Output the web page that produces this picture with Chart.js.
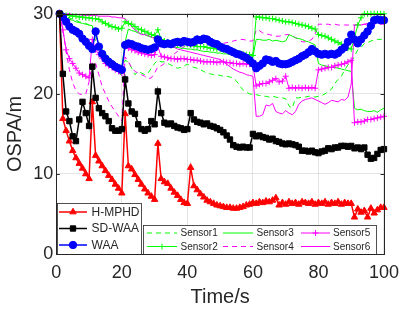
<!DOCTYPE html>
<html><head><meta charset="utf-8">
<script src="https://cdn.jsdelivr.net/npm/chart.js@4.4.1/dist/chart.umd.min.js"></script>
<style>html,body{margin:0;padding:0;background:#fff;overflow:hidden}#wrap{width:407px;height:309px}</style>
</head><body><div id="wrap"><canvas id="c" width="407" height="309"></canvas></div>
<script>
const timeSteps = [1,2,3,4,5,6,7,8,9,10,11,12,13,14,15,16,17,18,19,20,21,22,23,24,25,26,27,28,29,30,31,32,33,34,35,36,37,38,39,40,41,42,43,44,45,46,47,48,49,50,51,52,53,54,55,56,57,58,59,60,61,62,63,64,65,66,67,68,69,70,71,72,73,74,75,76,77,78,79,80,81,82,83,84,85,86,87,88,89,90,91,92,93,94,95,96,97,98,99,100];
const xTicks = [0,20,40,60,80,100];
const yTicks = [0,10,20,30];

const hmphd = [30,16.9,15.4,14.1,12.9,12,11.3,10.7,10,9.4,
 19,12.3,11.6,11,10.4,9.8,9.3,8.7,8.2,7.6,
 17.5,11,10.6,9.9,9.3,8.7,8.1,7.6,7.2,6.8,
 13.8,9.4,9,8.8,8.2,7.7,7.3,6.8,6.4,6.3,
 10.8,8.5,8,7.5,7.1,6.7,6.5,6.3,6.1,6,
 5.9,5.8,5.8,5.7,5.7,5.8,5.9,6.1,6.2,6.4,
 6.3,6.5,6.4,6.6,6.5,6.7,7,6.1,6.4,6.2,
 6.5,6.3,6.4,6.2,6.5,6.4,6.3,6.5,6.2,6.4,
 6.3,6.5,6.2,6.4,6.3,6.5,6.2,6.4,6.3,6.3,
 4.6,5.6,5.2,5.4,4.6,5.7,5.1,5.5,5.8,5.8];
const sdwaa = [30,22.5,17.8,16.6,14.7,14.1,16.8,19,17.6,16,
 23.4,19.5,18.2,17.6,17.2,16.6,15.7,15.4,15.4,15.6,
 21.8,18.8,17.8,17.5,16.2,15.6,15.4,15.6,16.6,16.2,
 20.3,17.6,16.4,16.2,16.3,16,15.8,15.7,15.5,15.6,
 17.6,16.8,16.5,16.4,16.2,16.3,16,15.9,15.7,15.5,
 15.2,14.8,14.3,13.6,13.4,13.3,13.4,13.3,13.3,15,
 14.7,14.8,14.6,14.5,14.3,14.4,14.1,14,13.8,13.7,
 13.8,13.7,13.6,13.4,12.9,12.9,12.8,12.9,12.7,12.6,
 12.8,12.9,13.2,13.1,13.3,13.3,13.5,13.5,13.4,13.5,
 13.2,13.3,13.1,13.3,12.4,11.9,12,12.5,13,13.1];
const waa = [30,29.6,29,28.4,28,27.8,27.5,26.9,26.5,26,
 25.6,27.8,25.9,25,24.4,24,23.7,23.4,23.2,23,
 26.1,26.3,26.2,26,25.9,25.7,25.6,25.5,25.6,25.8,
 26.8,26.3,26.2,26.3,26.2,26.4,26.5,26.4,26.6,26.5,
 26.4,26.5,26.8,26.7,26.9,26.8,26.5,26.3,26.2,25.9,
 25.7,25.6,25.4,25.2,25,24.9,24.7,24.5,24.2,23.8,
 23.2,23.5,23.8,24.3,24.2,24,24.1,23.8,23.7,23.7,
 23.8,24,24.2,24.4,24.7,24.9,25.2,25.6,25.3,25,
 24.9,25,24.9,25,24.9,25.1,25.5,25.8,26.5,27.4,
 26.8,26.3,26.8,27.3,27.8,28.5,29.2,29.3,29.2,29.2];
const sensor1 = [30,29.8,29.6,29.5,29.3,29.2,29,28.9,28.8,28.6,
 28.4,26.5,25.3,24.8,24.3,23.8,23.2,22.9,22.6,22.3,
 24.2,24,23.2,22.4,22.8,22.6,22.4,22.6,23.2,23.8,
 24.2,24,24,23.8,23.6,23.4,23.2,23.3,23.5,23.7,
 23.5,23.3,23.2,23,22.8,22.6,22.5,22.4,22.4,22.3,
 22.2,22.2,22.1,22,21.6,21,20.5,20.2,20,19.9,
 19.9,19.8,19.7,19.7,19.6,19.7,19.6,19.5,19.5,19.4,
 18.5,18.2,19.5,19.5,19.6,19.6,19.7,19.7,19.6,19.7,
 19.8,20,20.3,20.6,21.3,21.8,22.2,23,23.6,24,
 24.7,25.5,25.8,26.3,26.4,26.6,26.7,26.8,26.8,26.9];
const sensor2 = [30,29.9,29.8,29.8,29.7,29.7,29.6,29.6,29.5,29.5,
 29.4,29.4,29.3,29,28.8,28.6,28.4,28.3,28.1,28.2,
 29,28.8,28.7,28.4,28.1,28,27.8,27.6,27.4,27.3,
 28,26.8,26.6,26.5,26.3,26.2,26.1,26.2,26.3,26.2,
 26.1,26,25.9,25.9,25.9,25.8,25.7,25.7,25.6,25.6,
 25.5,25.5,25.4,25.3,25.2,25.1,25,24.9,24.9,24.8,
 29.6,29.6,29.5,29.5,29.4,29.4,29.3,29.2,29.1,29,
 29,28.9,28.8,28.7,28.6,28.5,28.4,28.2,28.1,27.4,
 27.3,27.2,27,26.8,26.6,26.4,26.2,26,25.7,25.6,
 27,28.6,29.5,30,30,30,30,30,30,30];
const sensor3 = [30,29.7,29.5,29.3,29.2,29,28.9,28.8,28.7,28.6,
 28.5,27.2,26.2,25.5,25,24.6,24.2,23.9,23.6,23.3,
 26.5,28.1,27.9,27.8,27.6,27.5,27.4,27.2,27.1,27,
 27.2,26.1,26,25.9,25.9,25.8,25.8,25.7,25.7,25.6,
 25.6,25.5,25.5,25.4,25.3,25.3,25.2,25.2,25.1,25.1,
 25,25,24.9,24.9,24.8,24.8,24.7,24.7,24.6,24.6,
 26.8,26.8,26.7,26.7,26.8,26.6,26.7,26.6,26.5,26.6,
 27.4,27.2,27,26.9,26.8,26.6,26.5,26.3,26.1,23.8,
 23.6,23.5,23.4,23.3,23.3,23.2,23.1,23,22.9,22.8,
 18.2,18,18.1,17.9,17.8,17.8,17.9,17.7,18,18.2];
const sensor4 = [30,28.1,25.3,23,21.4,20.4,20,19.9,20,21.5,
 24,23.8,22.4,20.9,20,19.1,18.4,17.8,17.2,16.6,
 24.6,24,23.3,22.8,22.6,22.4,22.2,21.9,22,22.6,
 23.4,23.5,23.8,24.2,24.6,25,25.3,25.6,25.9,26.1,
 26.3,26.4,26.6,26.8,26.8,26.7,26.6,26.5,26.4,26.4,
 26.3,26.4,26.5,26.6,26.7,26.8,26.8,26.7,26.6,26.6,
 28,27.9,27.6,27.5,27.4,27.3,27.2,27.2,27.3,27.4,
 27.4,27.3,27,26.8,26.5,26.5,26.6,26.8,27.5,28.7,
 28.7,28.7,28.7,28.6,28.7,28.6,28.6,28.6,28.6,28.6,
 28.6,28.6,28.6,28.7,28.6,28.7,28.7,28.7,28.7,28.7];
const sensor5 = [30,28,25.5,24.4,23.8,23.2,22.6,22.4,22.2,22,
 26.8,25.5,24.9,24.4,23.8,23.5,23.3,23,22.8,22.6,
 25.9,25.7,25.5,25.4,25.2,25.1,25,24.9,24.8,24.9,
 25.9,24.7,24.6,24.5,24.4,24.4,24.3,24.4,24.4,24.3,
 24.3,24.2,24.2,24.1,24,24,24,24,23.9,24,
 24,23.9,23.9,23.8,23.8,23.7,23.8,23.7,23.7,23.6,
 21,21.2,21.3,21.3,21.5,21.7,21.9,21.5,21.6,22.2,
 20.7,20.8,20.7,20.8,20.7,20.8,20.7,20.8,20.7,23,
 23.1,23.2,23.3,23.3,23.5,23.6,23.7,23.8,24,24.2,
 16.4,16.5,16.5,16.6,16.8,16.8,16.9,17,17.1,17.2];
const sensor6 = [30,30,30,30,29.9,29.9,29.9,29.8,29.8,29.8,
 29.8,29.8,29.7,29.7,29.7,29.7,29.6,29.6,29.5,29.5,
 29.4,28.9,28.4,28,27.7,27.4,27.4,27.3,27.1,26.9,
 26.8,26.2,26.1,26,25.9,25.8,25.6,25.5,25.4,25.3,
 25.2,25.1,25,24.9,24.8,24.7,24.6,24.5,24.4,24.3,
 24,23.7,23.4,23.1,22.9,22.7,22.6,22.4,22.3,22.2,
 17.2,17.2,17.4,18.6,18.5,18.8,17.8,17.6,17.5,17.9,
 17.6,17.4,17.8,18.7,19.1,19.3,19.4,19.5,19.3,19.1,
 18.9,18.7,18.9,19.2,19.1,19,19.3,19.2,19.6,21.2,
 28.6,28.6,28.6,28.7,28.8,28.9,29,29.1,29.2,29.2];

const FONT = "'Liberation Sans', Arial, Helvetica, sans-serif";
const AX = '#262626';
const pts = arr => arr.map((v, i) => ({x: timeSteps[i], y: v}));

const seriesDefs = [
  {label:'H-MPHD', data:hmphd, color:'#ff0000', style:'triangle', r:3.7, w:1.5, order:2},
  {label:'SD-WAA', data:sdwaa, color:'#000000', style:'rect', r:3.8, w:1.5, order:1},
  {label:'WAA', data:waa, color:'#0000ff', style:'circle', r:3.7, w:1.5, order:3},
  {label:'Sensor1', data:sensor1, color:'#00ff00', style:false, r:0, w:1, dash:[5,4], order:9},
  {label:'Sensor2', data:sensor2, color:'#00ff00', style:'cross', r:3, w:1, order:4},
  {label:'Sensor3', data:sensor3, color:'#00ff00', style:false, r:0, w:1, order:7},
  {label:'Sensor4', data:sensor4, color:'#ff00ff', style:false, r:0, w:1, dash:[5,4], order:8},
  {label:'Sensor5', data:sensor5, color:'#ff00ff', style:'cross', r:3, w:1, order:5},
  {label:'Sensor6', data:sensor6, color:'#ff00ff', style:false, r:0, w:1, order:6},
];

const datasets = seriesDefs.map(s => ({
  label: s.label,
  data: pts(s.data),
  borderColor: s.color,
  backgroundColor: s.color,
  pointBackgroundColor: s.color,
  pointBorderColor: s.color,
  borderWidth: s.w,
  borderDash: s.dash || [],
  pointStyle: s.style || 'circle',
  pointRadius: s.r,
  pointBorderWidth: 1,
  pointHoverRadius: s.r,
  tension: 0,
  clip: false,
  order: s.order
}));

function drawMarker(ctx, s, x, y) {
  if (!s.style) return;
  ctx.save();
  ctx.setLineDash([]);
  ctx.fillStyle = s.color; ctx.strokeStyle = s.color; ctx.lineWidth = 1;
  Chart.helpers.drawPoint(ctx, {pointStyle: s.style, radius: s.r, rotation: 0, borderWidth: 1}, x, y);
  ctx.restore();
}
function drawEntry(ctx, s, x0, x1, y, tx, fs) {
  ctx.save();
  ctx.strokeStyle = s.color; ctx.lineWidth = s.w;
  ctx.setLineDash(s.dash || []);
  ctx.beginPath(); ctx.moveTo(x0, y); ctx.lineTo(x1, y); ctx.stroke();
  ctx.restore();
  drawMarker(ctx, s, (x0 + x1) / 2, y);
  ctx.save();
  ctx.fillStyle = AX; ctx.font = fs + 'px ' + FONT;
  ctx.textBaseline = 'middle'; ctx.textAlign = 'left';
  ctx.fillText(s.label, tx, y + 0.5);
  ctx.restore();
}

const framePlugin = {
  id: 'frameLegend',
  afterDraw(chart) {
    const ctx = chart.ctx, a = chart.chartArea;
    const xs = chart.scales.x, ys = chart.scales.y;
    ctx.save();
    ctx.strokeStyle = AX; ctx.lineWidth = 1;
    ctx.strokeRect(Math.round(a.left) + 0.5, Math.round(a.top) + 0.5, Math.round(a.right - a.left), Math.round(a.bottom - a.top));
    ctx.beginPath();
    xTicks.forEach(v => {
      const px = Math.round(xs.getPixelForValue(v)) + 0.5;
      ctx.moveTo(px, a.bottom); ctx.lineTo(px, a.bottom - 3.5);
      ctx.moveTo(px, a.top); ctx.lineTo(px, a.top + 3.5);
    });
    yTicks.forEach(v => {
      const py = Math.round(ys.getPixelForValue(v)) + 0.5;
      ctx.moveTo(a.left, py); ctx.lineTo(a.left + 3.5, py);
      ctx.moveTo(a.right, py); ctx.lineTo(a.right - 3.5, py);
    });
    ctx.stroke();
    ctx.restore();

    ctx.save();
    ctx.fillStyle = '#ffffff'; ctx.strokeStyle = AX; ctx.lineWidth = 0.8;
    ctx.fillRect(57, 203, 84, 51); ctx.strokeRect(57.5, 203.5, 84, 51);
    ctx.fillRect(143, 225, 233, 29); ctx.strokeRect(143.5, 225.5, 233, 29);
    ctx.restore();
    const rows1 = [212, 228.5, 245];
    for (let i = 0; i < 3; i++) drawEntry(ctx, seriesDefs[i], 59, 87, rows1[i], 91.5, 12);
    const cols = [[147, 177, 180.5], [223, 253, 256.5], [301, 330, 333]];
    const rows2 = [233, 246.5];
    for (let i = 0; i < 6; i++) {
      const c = cols[Math.floor(i / 2)], r = rows2[i % 2];
      drawEntry(ctx, seriesDefs[3 + i], c[0], c[1], r, c[2], 10);
    }
  }
};

new Chart(document.getElementById('c'), {
  type: 'line',
  data: { datasets },
  options: {
    responsive: false, animation: false, devicePixelRatio: 1,
    layout: { padding: { top: 12, right: 18, left: 0, bottom: 0 } },
    plugins: { legend: { display: false }, tooltip: { enabled: false } },
    scales: {
      x: {
        type: 'linear', min: 0, max: 100,
        afterFit: s => { s.height = 55; },
        afterBuildTicks: s => { s.ticks = xTicks.map(v => ({value: v})); },
        grid: { color: 'rgba(0,0,0,0.1)', drawTicks: false, lineWidth: 1 },
        border: { display: false },
        ticks: { color: AX, padding: 8, maxRotation: 0, font: { family: FONT, size: 18 } },
        title: { display: true, text: 'Time/s', color: AX, padding: { top: 0, bottom: 0 }, font: { family: FONT, size: 20 } }
      },
      y: {
        type: 'linear', min: 0, max: 30,
        afterFit: s => { s.width = 56.3; },
        afterBuildTicks: s => { s.ticks = yTicks.map(v => ({value: v})); },
        grid: { color: 'rgba(0,0,0,0.1)', drawTicks: false, lineWidth: 1 },
        border: { display: false },
        ticks: { color: AX, padding: 3, font: { family: FONT, size: 18 } },
        title: { display: true, text: 'OSPA/m', color: AX, padding: { top: 3, bottom: 0 }, font: { family: FONT, size: 20 } }
      }
    }
  },
  plugins: [framePlugin]
});
</script></body></html>
